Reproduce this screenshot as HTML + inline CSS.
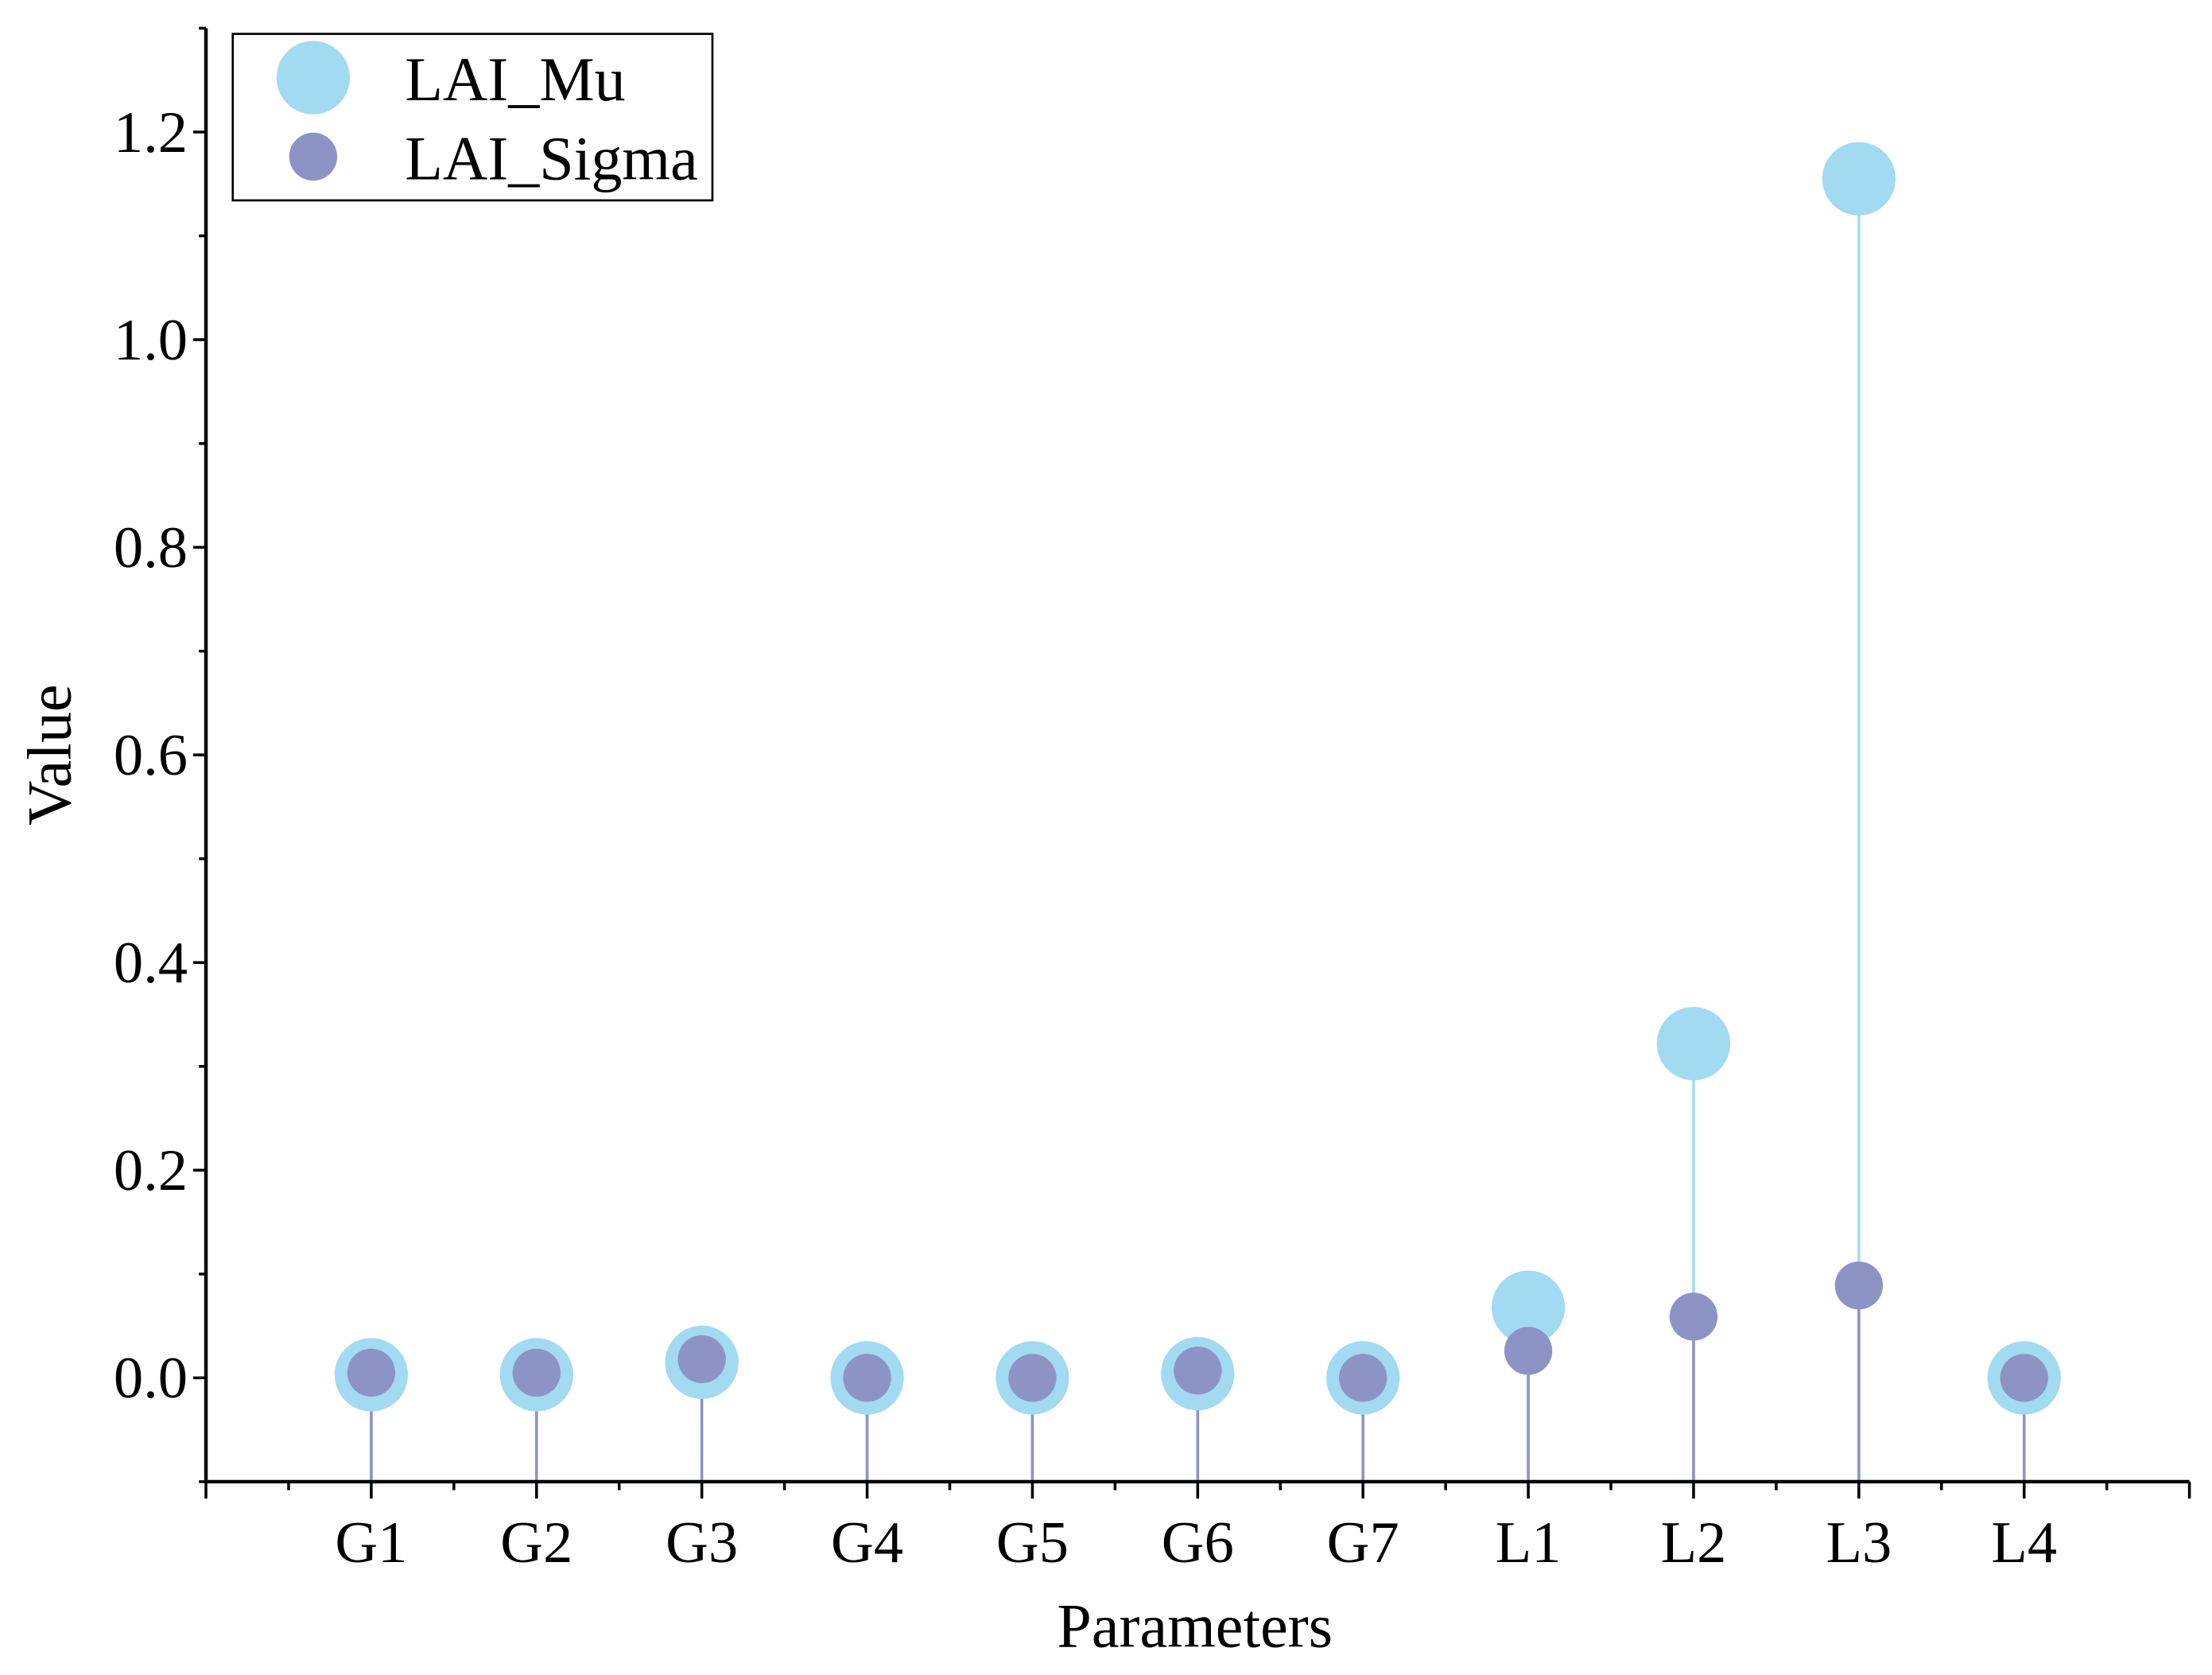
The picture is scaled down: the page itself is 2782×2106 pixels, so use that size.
<!DOCTYPE html>
<html><head><meta charset="utf-8"><style>html,body{margin:0;padding:0;background:#fff}svg{display:block}</style></head>
<body>
<svg id="chart" width="2782" height="2106" viewBox="0 0 1568 1187" preserveAspectRatio="none" xmlns="http://www.w3.org/2000/svg" font-family="Liberation Serif, serif">
<g id="stems"></g>
<g id="marks"></g>
<g id="axes"></g>
<text x="847" y="1167" font-size="44" text-anchor="middle">Parameters</text>
<text transform="translate(50,535) rotate(-90)" font-size="44" text-anchor="middle">Value</text>
<g>
<rect x="165" y="24" width="340" height="118" fill="#fff" stroke="#000" stroke-width="1.5"/>
<ellipse cx="222" cy="55" rx="26" ry="26" fill="#a2daf1"/>
<text x="287" y="71" font-size="44">LAI_Mu</text>
<circle cx="222" cy="111" r="17" fill="#8e93c6"/>
<text x="287" y="127" font-size="44">LAI_Sigma</text>
</g>
</svg>
<script>
const categories = ["G1","G2","G3","G4","G5","G6","G7","L1","L2","L3","L4"];
const muValues = [0.003,0.003,0.015,0,0,0.004,0,0.068,0.322,1.155,0];
const sigmaValues = [0.005,0.005,0.018,0,0,0.007,0,0.026,0.059,0.089,0];
const yTickLabels = ["0.0","0.2","0.4","0.6","0.8","1.0","1.2"];
const yTickValues = [0,0.2,0.4,0.6,0.8,1.0,1.2];

const NS="http://www.w3.org/2000/svg";
const X0=146,X1=1552,Y0=1050,Y1=20,ymin=-0.1,ymax=1.3,xmin=0,xmax=12;
const xs=i=>X0+(i-xmin)/(xmax-xmin)*(X1-X0);
const ys=v=>Y0-(v-ymin)/(ymax-ymin)*(Y0-Y1);
function mk(tag,attrs,parent){const e=document.createElementNS(NS,tag);for(const k in attrs)e.setAttribute(k,attrs[k]);parent.appendChild(e);return e;}
const stems=document.getElementById('stems'),marks=document.getElementById('marks'),axes=document.getElementById('axes');

categories.forEach((c,i)=>{
  const x=xs(i+1);
  let s=mk('line',{x1:x,x2:x,y1:ys(ymin),y2:ys(muValues[i]),stroke:'#a2daf1','stroke-width':2},stems);
  
  
  let s2=mk('line',{x1:x,x2:x,y1:ys(ymin),y2:ys(sigmaValues[i]),stroke:'#8e93c6','stroke-width':2},stems);
  
  
});
categories.forEach((c,i)=>{
  const x=xs(i+1);
  let m=mk('circle',{cx:x,cy:ys(muValues[i]),r:26,fill:'#a2daf1'},marks);
  
  
});
categories.forEach((c,i)=>{
  const x=xs(i+1);
  let m=mk('circle',{cx:x,cy:ys(sigmaValues[i]),r:17,fill:'#8e93c6'},marks);
  
  
});
let ya=mk('line',{x1:X0,x2:X0,y1:Y1,y2:Y0+1,stroke:'#000','stroke-width':2.5},axes);


let xa=mk('line',{x1:X0-1,x2:X1,y1:Y0,y2:Y0,stroke:'#000','stroke-width':2.5},axes);


for(let v=-0.1;v<=1.3001;v+=0.1){
  const major=yTickValues.some(t=>Math.abs(t-v)<1e-6);
  mk('line',{x1:X0-(major?9:5),x2:X0,y1:ys(v),y2:ys(v),stroke:'#000','stroke-width':2},axes);
}
yTickValues.forEach((v,i)=>{
  let t=mk('text',{x:X0-13,y:ys(v)+14,'font-size':42,'text-anchor':'end'},axes);
  t.textContent=yTickLabels[i];
  
  
});
for(let k=0;k<=24;k++){
  const v=k/2,major=k%2===0;
  mk('line',{x1:xs(v),x2:xs(v),y1:Y0,y2:Y0+(major?12:6),stroke:'#000','stroke-width':2},axes);
}
categories.forEach((c,i)=>{
  let t=mk('text',{x:xs(i+1),y:1107,'font-size':42,'text-anchor':'middle'},axes);
  t.textContent=c;
  
  
});
</script>
</body></html>
